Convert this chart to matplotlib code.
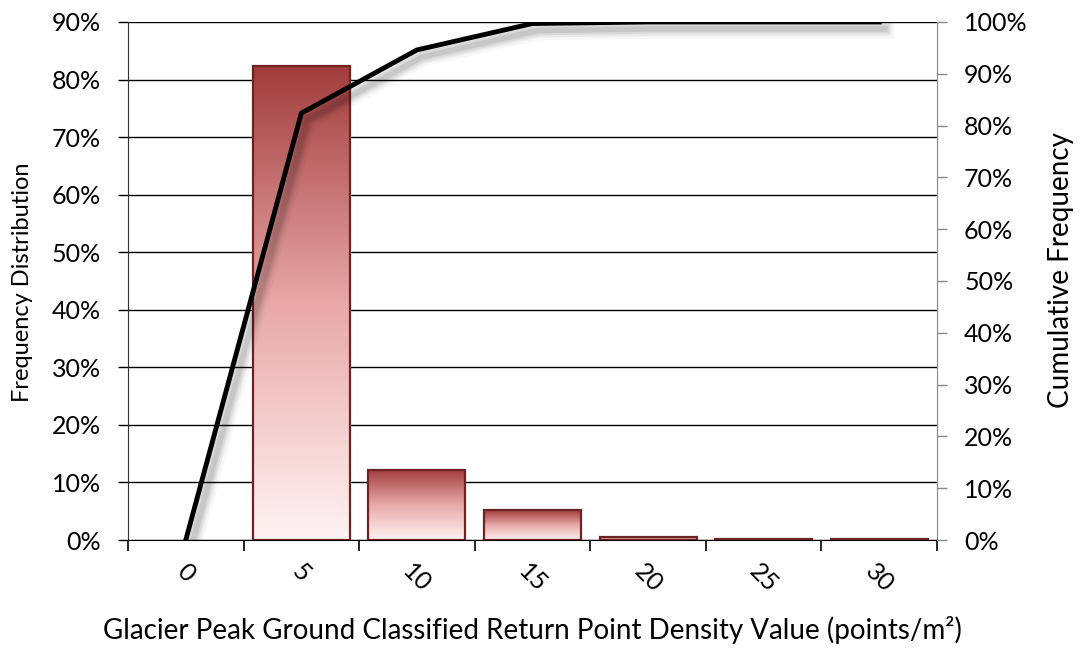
import numpy as np
import matplotlib.pyplot as plt
import matplotlib.patheffects as pe
from matplotlib.colors import LinearSegmentedColormap
from matplotlib.ticker import FixedLocator, PercentFormatter

plt.rcParams['font.family'] = ['Lato', 'DejaVu Sans']

categories = ['0', '5', '10', '15', '20', '25', '30']
freq_pct = [0.0, 82.3, 12.2, 5.2, 0.5, 0.2, 0.2]
cum_pct = [0.0, 82.4, 94.6, 99.7, 100.0, 100.0, 100.0]

x = np.arange(len(categories))
bar_w = 0.84
cmap = LinearSegmentedColormap.from_list('barfade', ['#fff3f3', '#e8a8a8', '#a23c3c'])

fig = plt.figure(figsize=(10.81, 6.56), dpi=100)
ax = fig.add_axes([0.1184, 0.1768, 0.7484, 0.7897])

grad = np.linspace(0, 1, 256).reshape(-1, 1)
for xi, h in zip(x, freq_pct):
    if h <= 0:
        continue
    ax.imshow(grad, extent=[xi - bar_w / 2, xi + bar_w / 2, 0, h], origin='lower',
              aspect='auto', cmap=cmap, zorder=2, interpolation='bicubic')
    ax.bar(xi, h, width=bar_w, facecolor='none', edgecolor='#6e2323',
           linewidth=1.6, zorder=3)

ax.set_xlim(-0.5, len(categories) - 0.5)
ax.set_ylim(0, 90)
ax.yaxis.set_major_locator(FixedLocator(np.arange(0, 91, 10)))
ax.yaxis.set_major_formatter(PercentFormatter(decimals=0))
ax.grid(axis='y', color='black', linewidth=1.0, zorder=1)
ax.set_axisbelow(True)

ax.set_xticks(x)
ax.set_xticklabels(categories, rotation=-45, ha='center', va='top')
ax.set_xticks(np.arange(-0.5, len(categories), 1), minor=True)
ax.tick_params(axis='x', which='major', length=0, pad=14, labelsize=18)
ax.tick_params(axis='x', which='minor', length=8, width=1.2, color='black', direction='out')
ax.tick_params(axis='y', length=7.5, width=1.0, color='black', labelsize=18, pad=12)

for side in ['top', 'right']:
    ax.spines[side].set_visible(False)
ax.spines['left'].set_color('#333333')
ax.spines['bottom'].set_color('black')

ax.set_ylabel('Frequency Distribution', fontsize=17)
ax.yaxis.set_label_coords(-0.1174, 0.498)
ax.set_xlabel('Glacier Peak Ground Classified Return Point Density Value (points/m²)',
              fontsize=20, labelpad=14)

# soft drop shadow under the cumulative line
shadow = [pe.SimpleLineShadow(offset=(4, -5), shadow_color='black', alpha=a, linewidth=w)
          for w, a in [(14, 0.03), (10, 0.05), (7, 0.07), (4, 0.08)]]
ax2 = ax.twinx()
ax2.plot(x, cum_pct, color='black', linewidth=3.5, zorder=5,
         path_effects=shadow + [pe.Normal()])
ax2.set_ylim(0, 100)
ax2.yaxis.set_major_locator(FixedLocator(np.arange(0, 101, 10)))
ax2.yaxis.set_major_formatter(PercentFormatter(decimals=0))
ax2.tick_params(axis='y', length=7.5, width=1.0, color='#888888', labelsize=18, pad=12)
for side in ['top', 'left', 'bottom']:
    ax2.spines[side].set_visible(False)
ax2.spines['right'].set_color('#888888')
ax2.set_ylabel('Cumulative Frequency', fontsize=20)
ax2.yaxis.set_label_coords(1.137, 0.521)

fig.savefig('out.png', dpi=100)
